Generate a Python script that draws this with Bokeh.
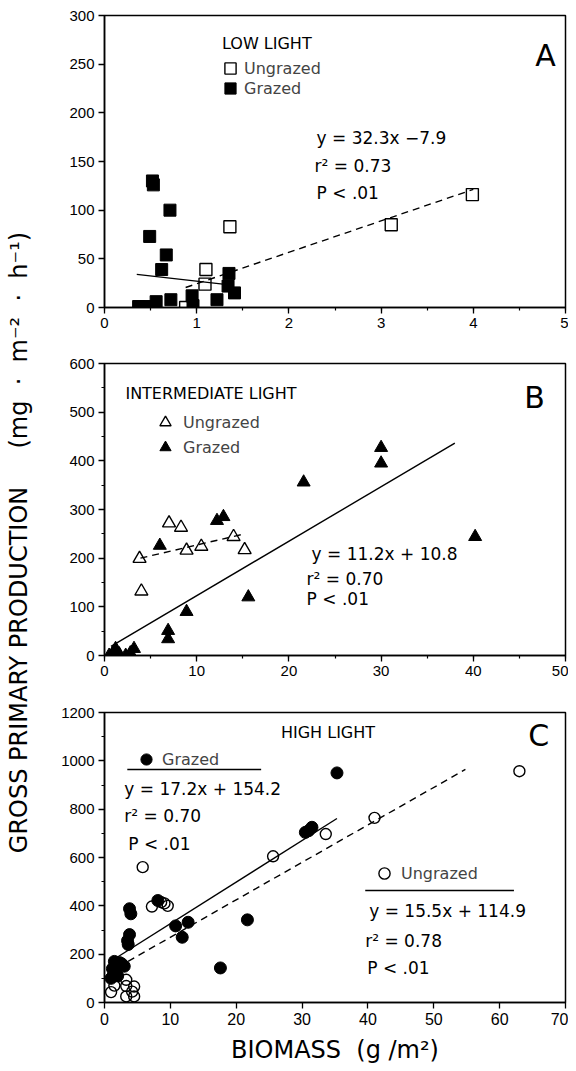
import math
from bokeh.plotting import figure
from bokeh.models import Range1d, Label, Legend, LegendItem, SingleIntervalTicker, BoxAnnotation
from bokeh.layouts import row, column
from bokeh.embed import file_html
from bokeh.resources import INLINE

FONT = "DejaVu Sans"
TICK_FONT = "Liberation Sans"
NB = "\u00a0"

# ---------------- data ----------------
# Panel A - low light
a_ungrazed_x = [0.88, 1.09, 1.10, 1.36, 3.11, 3.99]
a_ungrazed_y = [0, 24, 39, 83, 85, 116]
a_grazed_x = [0.37, 0.42, 0.46, 0.49, 0.52, 0.53, 0.56, 0.62, 0.67, 0.71, 0.72, 0.95, 0.96, 1.22, 1.34, 1.35, 1.41]
a_grazed_y = [1, 0, 1, 73, 130, 126, 6, 39, 54, 100, 8, 12, 2, 8, 22, 35, 15]
a_ungrazed_fit = (32.3, -7.9)
a_ungrazed_fit_x = [0.88, 4.0]
a_grazed_fit_x = [0.35, 1.38]
a_grazed_fit_y = [34, 23]

# Panel B - intermediate light
b_ungrazed_x = [3.8, 4.0, 7.0, 8.3, 8.9, 10.5, 14.0, 15.2]
b_ungrazed_y = [199, 132, 272, 263, 216, 224, 244, 217]
b_grazed_x = [0.5, 0.9, 1.2, 1.6, 2.3, 2.8, 3.2, 6.0, 6.9, 6.9, 8.9, 12.2, 12.9, 15.6, 21.6, 30.0, 30.0, 40.2]
b_grazed_y = [0, 5, 14, 3, 0, 5, 14, 226, 51, 34, 90, 277, 285, 120, 356, 427, 395, 244]
b_grazed_fit = (11.2, 10.8)
b_grazed_fit_x = [0.7, 38.0]
b_ungrazed_fit_x = [3.9, 15.2]
b_ungrazed_fit_y = [200, 250]

# Panel C - high light
c_grazed_x = [1.0, 1.2, 1.4, 1.5, 1.8, 2.0, 2.3, 2.6, 3.0, 3.5, 3.6, 3.8, 3.8, 4.0, 8.1, 10.8, 11.8, 12.7, 17.6, 21.7, 30.5, 31.0, 31.5, 35.3]
c_grazed_y = [100, 140, 120, 170, 150, 110, 165, 160, 150, 256, 240, 281, 388, 367, 422, 317, 270, 332, 143, 342, 704, 711, 725, 950]
c_ungrazed_x = [1.0, 1.5, 3.3, 3.3, 4.5, 3.3, 4.5, 4.2, 5.8, 7.2, 8.6, 9.1, 9.6, 25.6, 33.6, 41.0, 63.0]
c_ungrazed_y = [43, 70, 94, 68, 66, 25, 25, 45, 560, 397, 415, 410, 400, 605, 697, 764, 957]
c_grazed_fit = (17.2, 154.2)
c_grazed_fit_x = [1.5, 35.3]
c_ungrazed_fit = (15.5, 114.9)
c_ungrazed_fit_x = [2.0, 54.8]

# ---------------- layout helpers ----------------
LAB_W = 36
PANEL_W = 532
PANEL_X0 = LAB_W  # window x where the panel column starts


def panel(height, page_top, frame, xr, yr, xint, yint, xminor, yminor, xsize="15px"):
    L, R, T, B = frame
    p = figure(width=PANEL_W, height=height,
               x_range=Range1d(*xr), y_range=Range1d(*yr),
               min_border_left=L - PANEL_X0, min_border_right=PANEL_X0 + PANEL_W - R,
               min_border_top=T - page_top, min_border_bottom=page_top + height - B,
               toolbar_location=None, output_backend="svg")
    p.xgrid.visible = False
    p.ygrid.visible = False
    p.outline_line_color = "black"
    p.outline_line_width = 1.5
    p.outline_line_alpha = 1
    p.xaxis.ticker = SingleIntervalTicker(interval=xint, num_minor_ticks=2)
    p.yaxis.ticker = SingleIntervalTicker(interval=yint, num_minor_ticks=2)
    for ax, minor, fs in ((p.xaxis[0], xminor, xsize), (p.yaxis[0], yminor, "15px")):
        ax.axis_line_width = 1.5
        ax.axis_line_color = "black"
        ax.major_tick_in = 0
        ax.major_tick_out = 6
        ax.major_tick_line_width = 1.3
        ax.minor_tick_in = 0
        ax.minor_tick_out = 3
        ax.minor_tick_line_width = 1.2
        if not minor:
            ax.minor_tick_line_color = None
        ax.major_label_text_font = TICK_FONT
        ax.major_label_text_font_size = fs
        ax.major_label_text_color = "black"
        ax.major_label_standoff = 4
    return p


def converter(frame, xr, yr):
    L, R, T, B = frame

    def conv(px, py):
        return (xr[0] + (px - L) / (R - L) * (xr[1] - xr[0]),
                yr[0] + (B - py) / (B - T) * (yr[1] - yr[0]))
    return conv


def text(p, conv, px, py, s, size, align="left", font=FONT):
    x, y = conv(px, py)
    p.add_layout(Label(x=x, y=y, text=s, text_font=font, text_font_size=size,
                       text_align=align, text_baseline="middle", text_color="black"))


def key(p, frame, renderer, label, cx, cy, label_px, gw=28):
    L, R, T, B = frame
    left = cx - gw / 2
    bottom = cy + gw / 2
    leg = Legend(items=[LegendItem(label=label, renderers=[renderer])],
                 location=(left - L, B - bottom), glyph_width=gw, glyph_height=gw,
                 label_standoff=int(round(label_px - (left + gw))), padding=0, margin=0,
                 spacing=0, border_line_alpha=0, background_fill_alpha=0,
                 label_text_font=FONT, label_text_font_size="16px", label_height=gw,
                 label_text_baseline="middle")
    p.add_layout(leg)


def rule(p, conv, px0, px1, py):
    x0, y0 = conv(px0, py + 0.7)
    x1, y1 = conv(px1, py - 0.7)
    p.add_layout(BoxAnnotation(left=x0, right=x1, bottom=y0, top=y1,
                               fill_color="black", fill_alpha=1, line_alpha=0))


LW = 1.4
DASH = "7 5"

# ---------------- panel A ----------------
fa = (104, 567, 15, 307)
xa, ya = (0, 5), (0, 300)
pa = panel(335, 0, fa, xa, ya, 1, 50, True, False)
ca = converter(fa, xa, ya)
pa.line(a_ungrazed_fit_x, [a_ungrazed_fit[0] * x + a_ungrazed_fit[1] for x in a_ungrazed_fit_x],
        line_color="black", line_width=LW, line_dash=DASH)
pa.line(a_grazed_fit_x, a_grazed_fit_y, line_color="black", line_width=LW)
ra_u = pa.scatter(a_ungrazed_x, a_ungrazed_y, marker="square", size=12,
                  fill_color=None, line_color="black", line_width=1.4)
ra_g = pa.scatter(a_grazed_x, a_grazed_y, marker="square", size=12,
                  fill_color="black", line_color="black")
text(pa, ca, 222, 43, "LOW LIGHT", "16px")
key(pa, fa, ra_u, "Ungrazed", 230, 68, 242)
key(pa, fa, ra_g, "Grazed", 230, 88, 242)
text(pa, ca, 547, 55, "A", "30px", align="center")
text(pa, ca, 317, 137, "y = 32.3x −7.9", "17px")
text(pa, ca, 315, 165, "r² = 0.73", "17px")
text(pa, ca, 317, 192, "P < .01", "17px")

# ---------------- panel B ----------------
fb = (104, 567, 363, 655)
xb, yb = (0, 50), (0, 600)
pb = panel(350, 335, fb, xb, yb, 10, 100, True, True)
cb = converter(fb, xb, yb)
pb.line(b_grazed_fit_x, [b_grazed_fit[0] * x + b_grazed_fit[1] for x in b_grazed_fit_x],
        line_color="black", line_width=LW)
pb.line(b_ungrazed_fit_x, b_ungrazed_fit_y, line_color="black", line_width=LW, line_dash=DASH)
rb_u = pb.scatter(b_ungrazed_x, b_ungrazed_y, marker="triangle", size=13,
                  fill_color=None, line_color="black", line_width=1.4)
rb_g = pb.scatter(b_grazed_x, b_grazed_y, marker="triangle", size=13,
                  fill_color="black", line_color="black")
text(pb, cb, 125, 393, "INTERMEDIATE LIGHT", "16px")
key(pb, fb, rb_u, "Ungrazed", 165, 422, 183)
key(pb, fb, rb_g, "Grazed", 165, 447, 183)
text(pb, cb, 536, 397, "B", "30px", align="center")
text(pb, cb, 312, 553, "y = 11.2x + 10.8", "17px")
text(pb, cb, 307, 578, "r² = 0.70", "17px")
text(pb, cb, 307, 598, "P < .01", "17px")

# ---------------- panel C ----------------
fc = (100, 565, 712, 1002)
xc, yc = (0, 70), (0, 1200)
pc = panel(384, 685, fc, xc, yc, 10, 200, False, True, xsize="16px")
cc = converter(fc, xc, yc)
pc.line(c_grazed_fit_x, [c_grazed_fit[0] * x + c_grazed_fit[1] for x in c_grazed_fit_x],
        line_color="black", line_width=LW)
pc.line(c_ungrazed_fit_x, [c_ungrazed_fit[0] * x + c_ungrazed_fit[1] for x in c_ungrazed_fit_x],
        line_color="black", line_width=LW, line_dash=DASH)
rc_u = pc.scatter(c_ungrazed_x, c_ungrazed_y, marker="circle", size=11,
                  fill_color=None, line_color="black", line_width=1.4)
rc_g = pc.scatter(c_grazed_x, c_grazed_y, marker="circle", size=12,
                  fill_color="black", line_color="black")
text(pc, cc, 278, 732, "HIGH LIGHT", "16px")
text(pc, cc, 538, 735, "C", "30px", align="center")
key(pc, fc, rc_g, "Grazed", 142, 759, 158)
rule(pc, cc, 123, 258, 769)
text(pc, cc, 120, 788, "y = 17.2x + 154.2", "17px")
text(pc, cc, 120, 815, "r² = 0.70", "17px")
text(pc, cc, 124, 843, "P < .01", "17px")
key(pc, fc, rc_u, "Ungrazed", 380, 873, 397)
rule(pc, cc, 363, 513, 890)
text(pc, cc, 367, 910, "y = 15.5x + 114.9", "17px")
text(pc, cc, 363, 940, "r² = 0.78", "17px")
text(pc, cc, 365, 967, "P < .01", "17px")
pc.xaxis.axis_label = "BIOMASS" + NB * 2 + "(g" + NB + "/m²)"
pc.xaxis.axis_label_text_font = FONT
pc.xaxis.axis_label_text_font_size = "24px"
pc.xaxis.axis_label_text_font_style = "normal"
pc.xaxis.axis_label_text_color = "black"
pc.xaxis.axis_label_standoff = 8

# ---------------- shared y label ----------------
LAB_H = 335 + 350 + 384
ylabel = ("GROSS PRIMARY PRODUCTION" + NB * 5 + "(mg" + NB * 2 + "·" + NB * 2 + "m⁻²"
          + NB * 2 + "·" + NB * 2 + "h⁻¹)")
pl = figure(width=LAB_W, height=LAB_H, x_range=Range1d(0, LAB_W), y_range=Range1d(0, LAB_H),
            x_axis_type=None, y_axis_type=None, min_border=0,
            toolbar_location=None, output_backend="svg")
pl.outline_line_color = None
pl.add_layout(Label(x=18, y=LAB_H - 542, text=ylabel,
                    angle=math.pi / 2, text_align="center", text_baseline="middle",
                    text_font=FONT, text_font_size="24px", text_color="black"))

layout = row(pl, column(pa, pb, pc))
open("out.html", "w").write(file_html(layout, INLINE))
